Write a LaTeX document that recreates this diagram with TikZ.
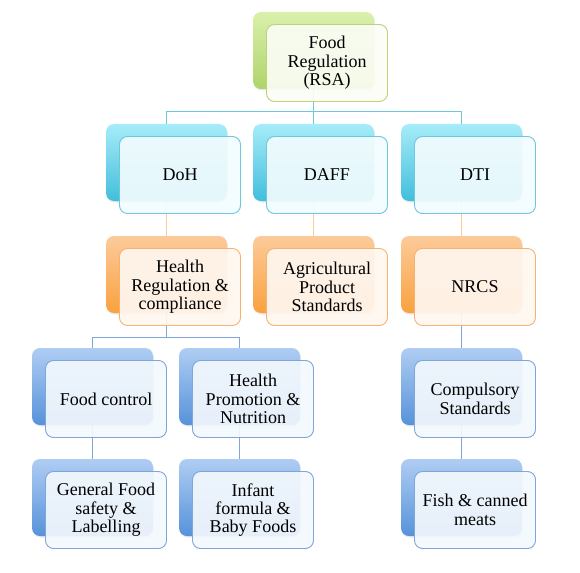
\documentclass[tikz,border=0pt]{standalone}
\usepackage{fontspec}
\setmainfont{Liberation Serif}
\usetikzlibrary{shadows}
\tikzset{>=latex}

\definecolor{grnT}{HTML}{DAF0AC}
\definecolor{grnB}{HTML}{AFD46A}
\definecolor{grnL}{HTML}{B8D57A}
\definecolor{cyaT}{HTML}{A6ECF9}
\definecolor{cyaB}{HTML}{42BEDB}
\definecolor{cyaL}{HTML}{6EC6DF}
\definecolor{orgT}{HTML}{FCCB9A}
\definecolor{orgB}{HTML}{F9A13E}
\definecolor{orgL}{HTML}{F7B273}
\definecolor{bluT}{HTML}{AFCDF3}
\definecolor{bluB}{HTML}{5792DA}
\definecolor{bluL}{HTML}{7EA6DD}

\tikzset{
    back/.style={rounded corners=8pt, minimum width=121pt, minimum height=77pt,
        inner sep=0pt, outer sep=0pt,
        drop shadow={opacity=0.18, shadow xshift=0.8pt, shadow yshift=-1.5pt}},
    front/.style={rounded corners=8pt, minimum width=121pt, minimum height=77pt,
        inner sep=0pt, outer sep=0pt, line width=0.9pt, fill opacity=0.92,
        text opacity=1, align=center,
        font=\fontsize{18}{18.4}\selectfont},
    grnback/.style={back, top color=grnT, bottom color=grnB},
    cyaback/.style={back, top color=cyaT, bottom color=cyaB},
    orgback/.style={back, top color=orgT, bottom color=orgB},
    bluback/.style={back, top color=bluT, bottom color=bluB},
    grnfront/.style={front, draw=grnL, fill=grnT!12!white},
    cyafront/.style={front, draw=cyaL, fill=cyaT!15!white},
    orgfront/.style={front, draw=orgL, fill=orgT!15!white},
    blufront/.style={front, draw=bluL, fill=bluT!15!white},
    link/.style={line width=0.9pt}
}

\begin{document}
\begin{tikzpicture}[x=1pt, y=-1pt]
    \useasboundingbox (0,0) rectangle (580,572);

    % back boxes
    \node[grnback] (regb) at (313.5, 50.5) {};
    \node[cyaback] (dohb) at (166.5, 162.5) {};
    \node[cyaback] (daffb) at (313.5, 162.5) {};
    \node[cyaback] (dtib) at (461.5, 162.5) {};
    \node[orgback] (hrcb) at (166.5, 274.5) {};
    \node[orgback] (apsb) at (313.5, 274.5) {};
    \node[orgback] (nrcsb) at (461.5, 274.5) {};
    \node[bluback] (fcb) at (92.5, 386.5) {};
    \node[bluback] (hpnb) at (239.5, 386.5) {};
    \node[bluback] (csb) at (461.5, 386.5) {};
    \node[bluback] (gfsb) at (92.5, 497.5) {};
    \node[bluback] (ifbb) at (239.5, 497.5) {};
    \node[bluback] (fcmb) at (461.5, 497.5) {};

    % connectors
    \draw[link, cyaL] (regb.south) -- ++(0,22) -| (dohb.north);
    \draw[link, cyaL] (regb.south) -- (daffb.north);
    \draw[link, cyaL] (regb.south) -- ++(0,22) -| (dtib.north);
    \draw[link, orgT] (dohb.south) -- (hrcb.north);
    \draw[link, orgT] (daffb.south) -- (apsb.north);
    \draw[link, orgT] (dtib.south) -- (nrcsb.north);
    \draw[link, bluL] (hrcb.south) -- ++(0,24) -| (fcb.north);
    \draw[link, bluL] (hrcb.south) -- ++(0,24) -| (hpnb.north);
    \draw[link, bluL] (nrcsb.south) -- (csb.north);
    \draw[link, bluL] (fcb.south) -- (gfsb.north);
    \draw[link, bluL] (hpnb.south) -- (ifbb.north);
    \draw[link, bluL] (csb.south) -- (fcmb.north);

    % front boxes
    \node[grnfront] (reg) at (327, 63) {Food\\Regulation\\(RSA)};
    \node[cyafront] (doh) at (180, 175) {DoH};
    \node[cyafront] (daff) at (327, 175) {DAFF};
    \node[cyafront] (dti) at (475, 175) {DTI};
    \node[orgfront] (hrc) at (180, 287) {Health\\Regulation \&\\compliance};
    \node[orgfront] (aps) at (327, 287) {Agricultural\\Product\\Standards};
    \node[orgfront] (nrcs) at (475, 287) {NRCS};
    \node[blufront] (fc) at (106, 399) {Food control};
    \node[blufront] (hpn) at (253, 399) {Health\\Promotion \&\\Nutrition};
    \node[blufront] (cs) at (475, 399) {Compulsory\\Standards};
    \node[blufront] (gfs) at (106, 510) {General Food\\safety \&\\Labelling};
    \node[blufront] (ifb) at (253, 510) {Infant\\formula \&\\Baby Foods};
    \node[blufront] (fcm) at (475, 510) {Fish \& canned\\meats};

\end{tikzpicture}
\end{document}
